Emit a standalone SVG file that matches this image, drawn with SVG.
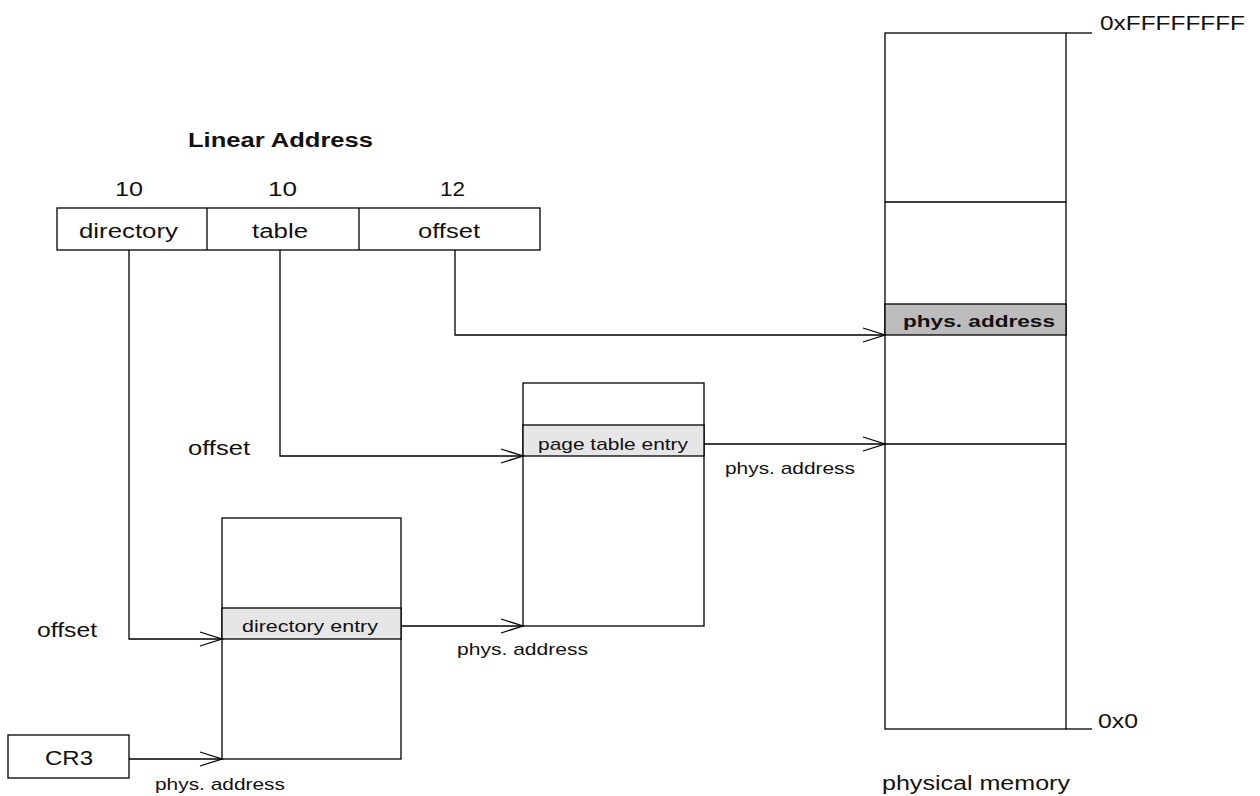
<svg xmlns="http://www.w3.org/2000/svg" width="1260" height="796" viewBox="0 0 1260 796">
<defs>
<marker id="arr" markerUnits="userSpaceOnUse" markerWidth="30" markerHeight="20" viewBox="-24 -10 26 20" refX="0" refY="0" orient="auto">
<path d="M-22,-7 L0,0 L-22,7" fill="none" stroke="#000" stroke-width="1.3"/>
</marker>
</defs>
<style>
.box{fill:#fff;stroke:#000;stroke-width:1.3}
.ln{fill:none;stroke:#000;stroke-width:1.3}
.con{fill:none;stroke:#000;stroke-width:1.3;marker-end:url(#arr)}
.t{font-family:"Liberation Sans",Arial,sans-serif;font-size:20px;fill:#111}
.n{font-family:"Liberation Sans",Arial,sans-serif;font-size:21px;fill:#111}
.s{font-family:"Liberation Sans",Arial,sans-serif;font-size:17px;fill:#111}
.b{font-family:"Liberation Sans",Arial,sans-serif;font-size:17px;font-weight:bold;fill:#111}
.lg{fill:#e6e6e6;stroke:#000;stroke-width:1.3}
.dg{fill:#bcbcbc;stroke:#000;stroke-width:1.3}
</style>
<rect width="1260" height="796" fill="#fff"/>

<g id="linear-address">
<text class="b" x="188" y="147" textLength="185" lengthAdjust="spacingAndGlyphs" style="font-size:20px">Linear Address</text>
<text class="n" x="115" y="196" textLength="28" lengthAdjust="spacingAndGlyphs">10</text>
<text class="n" x="268" y="196" textLength="29" lengthAdjust="spacingAndGlyphs">10</text>
<text class="n" x="440" y="196" textLength="25" lengthAdjust="spacingAndGlyphs">12</text>
<rect class="box" x="57" y="208" width="483" height="42"/>
<line class="ln" x1="207" y1="208" x2="207" y2="250"/>
<line class="ln" x1="359" y1="208" x2="359" y2="250"/>
<text class="t" x="79" y="238" textLength="99" lengthAdjust="spacingAndGlyphs">directory</text>
<text class="t" x="252" y="238" textLength="56" lengthAdjust="spacingAndGlyphs">table</text>
<text class="t" x="418" y="238" textLength="62" lengthAdjust="spacingAndGlyphs">offset</text>
</g>

<g id="cr3">
<rect class="box" x="8" y="735" width="121" height="43"/>
<text class="t" x="45" y="765" textLength="48" lengthAdjust="spacingAndGlyphs">CR3</text>
</g>

<g id="page-directory">
<rect class="box" x="222" y="518" width="179" height="241"/>
<rect class="lg" x="222" y="608" width="179" height="31"/>
<text class="s" x="242" y="632" textLength="136" lengthAdjust="spacingAndGlyphs">directory entry</text>
</g>

<g id="page-table">
<rect class="box" x="523" y="383" width="181" height="243"/>
<rect class="lg" x="523" y="425" width="181" height="31"/>
<text class="s" x="538" y="450" textLength="150" lengthAdjust="spacingAndGlyphs">page table entry</text>
</g>

<g id="physical-memory">
<rect class="box" x="885" y="33" width="181" height="696"/>
<line class="ln" x1="885" y1="202" x2="1066" y2="202"/>
<rect class="dg" x="885" y="304" width="181" height="31"/>
<line class="ln" x1="885" y1="444" x2="1066" y2="444"/>
<text class="b" x="903" y="327" textLength="152" lengthAdjust="spacingAndGlyphs">phys. address</text>
<line class="ln" x1="1066" y1="33" x2="1092" y2="33"/>
<line class="ln" x1="1066" y1="729" x2="1092" y2="729"/>
<text class="t" x="1100" y="30" textLength="145" lengthAdjust="spacingAndGlyphs">0xFFFFFFFF</text>
<text class="t" x="1098" y="728" textLength="40" lengthAdjust="spacingAndGlyphs">0x0</text>
<text class="t" x="882" y="790" textLength="188" lengthAdjust="spacingAndGlyphs">physical memory</text>
</g>

<g id="connectors">
<path class="con" d="M455,250 V335 H885"/>
<path class="con" d="M280,250 V456 H523"/>
<path class="con" d="M129,250 V639 H222"/>
<path class="con" d="M129,759 H222"/>
<path class="con" d="M401,626 H523"/>
<path class="con" d="M704,444 H885"/>
</g>

<g id="connector-labels">
<text class="t" x="188" y="455" textLength="62" lengthAdjust="spacingAndGlyphs">offset</text>
<text class="t" x="37" y="637" textLength="60" lengthAdjust="spacingAndGlyphs">offset</text>
<text class="s" x="725" y="474" textLength="130" lengthAdjust="spacingAndGlyphs">phys. address</text>
<text class="s" x="457" y="655" textLength="131" lengthAdjust="spacingAndGlyphs">phys. address</text>
<text class="s" x="155" y="790" textLength="130" lengthAdjust="spacingAndGlyphs">phys. address</text>
</g>
</svg>
